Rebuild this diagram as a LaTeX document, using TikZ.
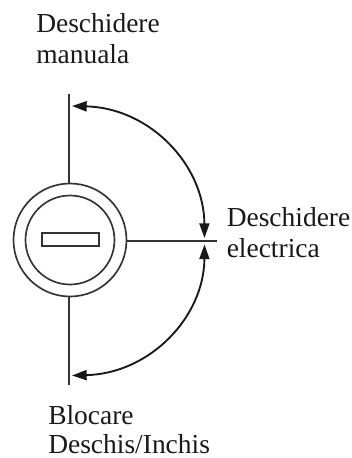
\documentclass[tikz,border=0pt]{standalone}
\usepackage{fontspec}
\setmainfont{Liberation Serif}
\usetikzlibrary{arrows.meta}
\tikzset{
  ln/.style={line width=1.25pt,draw=black!80},
  arc/.style={line width=1.4pt,draw=black!90,{Triangle[length=11pt,width=7.5pt]}-{Triangle[length=11pt,width=7.5pt]}},
  lbl/.style={anchor=base west,inner sep=0pt,font=\fontsize{20.6pt}{24pt}\selectfont,text=black!90}
}
\begin{document}
\begin{tikzpicture}[x=0.75pt,y=-0.75pt]
\useasboundingbox (0,0) rectangle (352,458);
\node[ln,draw,circle,minimum size=84.75pt,inner sep=0pt] (outer) at (70,240) {};
\node[ln,draw,circle,minimum size=66.75pt,inner sep=0pt] (inner) at (70,240) {};
\node[ln,draw,rectangle,minimum width=42.75pt,minimum height=9.75pt,inner sep=0pt] (slot) at (70.5,239.5) {};
\coordinate (top) at (69,94);
\coordinate (bot) at (69,385);
\coordinate (right) at (217,241);
\coordinate (a1) at (72,106);
\coordinate (a2) at (204.5,238);
\coordinate (b1) at (72,375.5);
\coordinate (b2) at (204.5,244.5);
\draw[ln] (outer.north -| top) -- (top);
\draw[ln] (outer.south -| bot) -- (bot);
\draw[ln] (outer.east |- right) -- (right);
\draw[arc] (a1) .. controls (150,108) and (204,165) .. (a2);
\draw[arc] (b1) .. controls (150,373.5) and (204,317) .. (b2);
\node[lbl] (t1) at (36,32) {Deschidere};
\node[lbl] (t2) at (36,63.5) {manuala};
\node[lbl] (t3) at (226.5,226) {Deschidere};
\node[lbl] (t4) at (226.5,257) {electrica};
\node[lbl] (t5) at (48,424) {Blocare};
\node[lbl] (t6) at (48,453) {Deschis/Inchis};
\end{tikzpicture}
\end{document}
